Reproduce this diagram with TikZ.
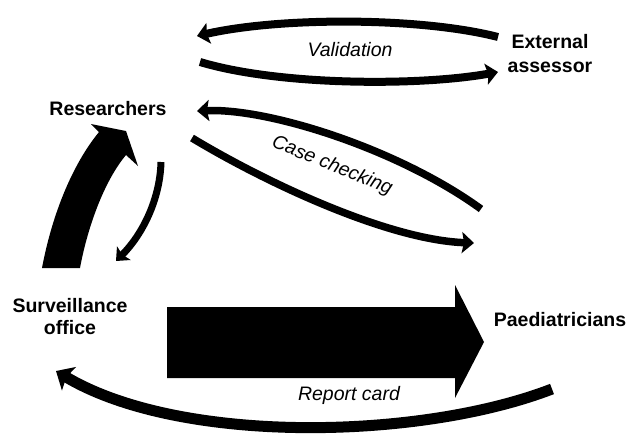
\documentclass[tikz,border=0pt]{standalone}
\usepackage{fontspec}
\setmainfont{Liberation Sans}
\usetikzlibrary{arrows.meta}
\begin{document}
\begin{tikzpicture}[x=1pt,y=-1pt,
  lbl/.style={font=\fontsize{19.5}{23}\selectfont\bfseries, align=center, inner sep=0pt},
  itl/.style={font=\fontsize{19.5}{23}\selectfont\itshape, inner sep=0pt},
  flow/.style={line width=8pt, -{Stealth[length=12pt,width=21pt,inset=2pt]}},
  thinflow/.style={line width=7pt, -{Stealth[length=11pt,width=19pt,inset=2pt]}},
  bigflow/.style={line width=11pt, -{Stealth[length=15pt,width=27pt,inset=3pt]}},
  solidarrow/.style={fill=black, draw=none}]
\useasboundingbox (0,0) rectangle (630,439);

% labels
\node[lbl, font=\fontsize{19.5}{24}\selectfont\bfseries] (ext) at (550,54) {External\\assessor};
\node[lbl] (res) at (108,109) {Researchers};
\node[lbl, font=\fontsize{19.5}{22}\selectfont\bfseries] (surv) at (70,317) {Surveillance\\office};
\node[lbl] (paed) at (560,320) {Paediatricians};
\node[itl] (val) at (350,50) {Validation};
\node[itl, rotate=-22] (cc) at (332,166) {Case checking};
\node[itl] (rc) at (349,395) {Report card};

% free ends
\coordinate (vA) at (498,37);
\coordinate (vB) at (197,36);
\coordinate (vC) at (200,62);
\coordinate (vD) at (498,72);
\coordinate (cA) at (481,209);
\coordinate (cB) at (197,111);
\coordinate (cC) at (192,138);
\coordinate (cD) at (474,243);
\coordinate (tA) at (161,162);
\coordinate (tB) at (116,261);
\coordinate (bA) at (552,389);
\coordinate (bB) at (56,371);

% validation
\draw[flow] (vA) .. controls (420,17) and (280,17) .. (vB);
\draw[flow] (vC) .. controls (280,86) and (420,86) .. (vD);

% case checking
\draw[flow, line width=7.5pt] (cA) .. controls (400,150) and (270,108) .. (cB);
\draw[flow, line width=7.5pt] (cC) .. controls (270,185) and (390,240) .. (cD);

% researchers -> surveillance
\draw[thinflow] (tA) .. controls (160,200) and (142,235) .. (tB);

% report card return
\draw[bigflow] (bA) .. controls (420,440) and (180,445) .. (bB);

% big curved arrow surveillance -> researchers
\path[solidarrow] (42,268) .. controls (52,215) and (72,165) .. (99,132)
  -- (91,124) -- (126,131) -- (138,166) -- (126,155)
  .. controls (105,180) and (88,225) .. (80,268) -- cycle;

% big straight arrow surveillance -> paediatricians
\path[solidarrow] (167,307) -- (455,307) -- (455,285) -- (484,342)
  -- (455,398) -- (455,378) -- (167,378) -- cycle;
\end{tikzpicture}
\end{document}
